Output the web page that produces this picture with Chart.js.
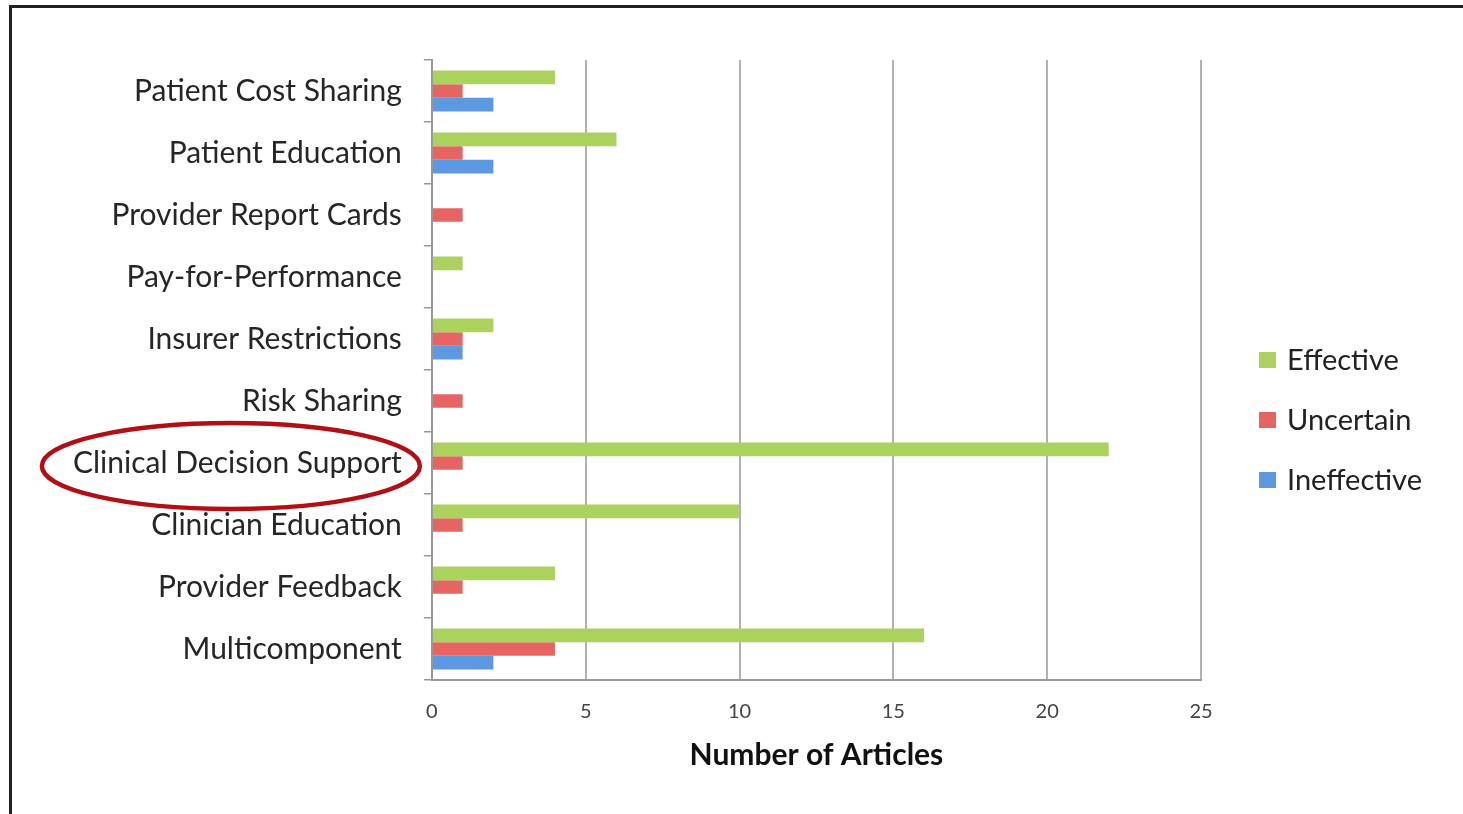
<!DOCTYPE html>
<html>
<head>
<meta charset="utf-8">
<script src="https://cdn.jsdelivr.net/npm/chart.js@4"></script>
<style>
  html, body { margin: 0; padding: 0; background: #fff; }
  #wrap { position: absolute; left: 0; top: 0; width: 1463px; height: 814px; }
  #frame { position: absolute; left: 9px; top: 5px; width: 1470px; height: 820px;
           border-left: 3px solid #222; border-top: 3px solid #222; pointer-events: none; }
</style>
</head>
<body>
<div id="wrap">
  <canvas id="my-chart" width="1463" height="814"></canvas>
  <div id="frame"></div>
</div>
<script>
var categories = ['Patient Cost Sharing', 'Patient Education', 'Provider Report Cards',
    'Pay-for-Performance', 'Insurer Restrictions', 'Risk Sharing',
    'Clinical Decision Support', 'Clinician Education', 'Provider Feedback', 'Multicomponent'];
var effective   = [4, 6, 0, 1, 2, 0, 22, 10, 4, 16];
var uncertain   = [1, 1, 1, 0, 1, 1, 1, 1, 1, 4];
var ineffective = [2, 2, 0, 0, 1, 0, 0, 0, 0, 2];
var xTicks = [0, 5, 10, 15, 20, 25];
var circled = 'Clinical Decision Support';

var FONT = 'Lato, "Open Sans", sans-serif';

// red ellipse around one category label + legend drawn to the right of the plot
var extrasPlugin = {
    id: 'extras',
    afterDraw: function (chart) {
        var c = chart.ctx;
        var y = chart.scales.y;
        var area = chart.chartArea;

        var cy = y.getPixelForValue(categories.indexOf(circled)) + 3;
        c.save();
        c.strokeStyle = '#b20f14';
        c.lineWidth = 4.5;
        c.beginPath();
        c.ellipse(y.right - 201, cy, 189, 43, 0, 0, Math.PI * 2);
        c.stroke();

        // legend
        c.font = '29px ' + FONT;
        c.textBaseline = 'middle';
        var lx = area.right + 58;
        var ly = 360;
        chart.data.datasets.forEach(function (ds, i) {
            var yy = ly + i * 60;
            c.fillStyle = ds.backgroundColor;
            c.fillRect(lx, yy - 8, 17, 16);
            c.fillStyle = '#222';
            c.fillText(ds.label, lx + 28, yy + 1);
        });
        c.restore();
    }
};

var ctx = document.getElementById('my-chart').getContext('2d');
new Chart(ctx, {
    type: 'bar',
    data: {
        labels: categories,
        datasets: [
            { label: 'Effective', data: effective, backgroundColor: 'rgb(170, 210, 92)' },
            { label: 'Uncertain', data: uncertain, backgroundColor: 'rgb(230, 100, 98)' },
            { label: 'Ineffective', data: ineffective, backgroundColor: 'rgb(92, 153, 224)' }
        ]
    },
    options: {
        indexAxis: 'y',
        responsive: false,
        animation: false,
        categoryPercentage: 0.66,
        barPercentage: 1.0,
        layout: { padding: { left: 51, top: 60, right: 262, bottom: 41 } },
        plugins: {
            tooltip: { enabled: false },
            legend: { display: false }
        },
        scales: {
            x: {
                min: 0,
                max: 25,
                afterBuildTicks: function (axis) {
                    axis.ticks = xTicks.map(function (v) { return { value: v }; });
                },
                grid: { color: '#b0b0b0', lineWidth: 2, drawTicks: false },
                border: { display: true, color: '#999', width: 2 },
                ticks: { font: { family: FONT, size: 20 }, color: '#444', padding: 20 },
                title: {
                    display: true,
                    text: 'Number of Articles',
                    font: { family: FONT, size: 30, weight: 'bold' },
                    color: '#111',
                    padding: { top: -7, bottom: 0 }
                }
            },
            y: {
                grid: { offset: true, drawOnChartArea: false, drawTicks: true, tickLength: 8, color: '#999', lineWidth: 1.5 },
                border: { display: true, color: '#999', width: 2 },
                ticks: { font: { family: FONT, size: 30 }, color: '#262626', padding: 22 }
            }
        }
    },
    plugins: [extrasPlugin]
});
</script>
</body>
</html>
